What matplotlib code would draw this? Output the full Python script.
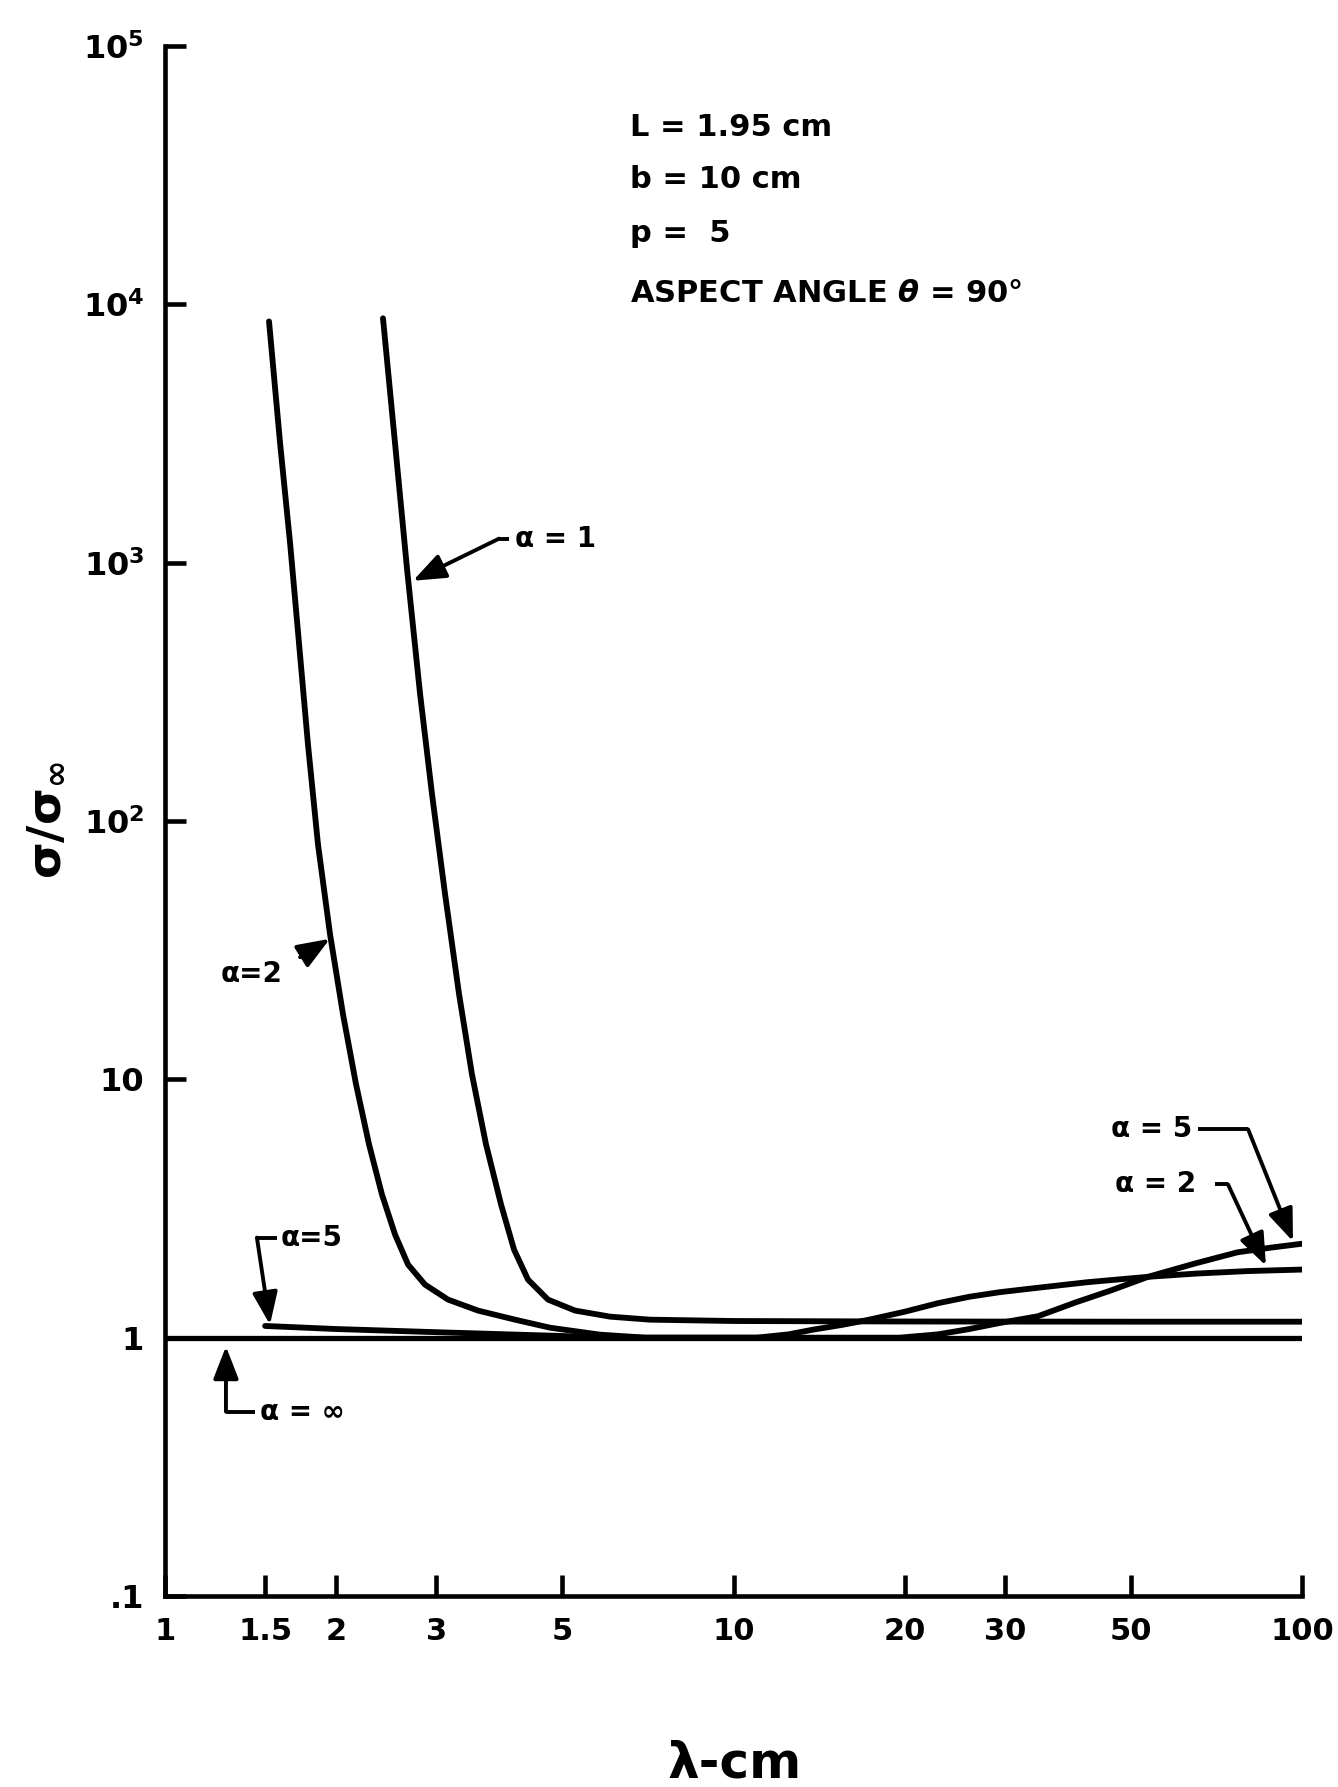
import matplotlib
matplotlib.use("Agg")
import matplotlib.pyplot as plt

plt.rcParams['font.family'] = ['DejaVu Sans']
plt.rcParams['font.weight'] = 'bold'
plt.rcParams['mathtext.fontset'] = 'custom'
plt.rcParams['mathtext.rm'] = 'DejaVu Sans:bold'
plt.rcParams['mathtext.bf'] = 'DejaVu Sans:bold'
plt.rcParams['mathtext.it'] = 'DejaVu Sans:bold:italic'

# sigma/sigma_inf vs wavelength (cm)
lam_a1 = [2.418, 2.539, 2.665, 2.81, 2.949, 3.109, 3.29, 3.467, 3.67, 3.90,
          4.111, 4.35, 4.717, 5.264, 6.066, 7.13, 10, 20, 50, 100]
sig_a1 = [8830, 2892, 948, 310, 127, 52.1, 21.4, 10.45, 5.60, 3.28,
          2.193, 1.678, 1.404, 1.273, 1.206, 1.174, 1.16, 1.155, 1.153, 1.153]

lam_a2 = [1.524, 1.594, 1.66, 1.721, 1.784, 1.858, 1.951, 2.056, 2.168, 2.285,
          2.408, 2.539, 2.676, 2.866, 3.147, 3.553, 4.128, 4.756, 5.823, 7.0,
          9.0, 11.0, 12.5, 13.8, 15.5, 17.2, 20, 22.9, 26, 29.4, 34.3, 42,
          53.6, 65, 80, 100]
sig_a2 = [8590, 2892, 1185, 486, 199, 81.4, 36.5, 17.9, 9.56, 5.60,
          3.58, 2.507, 1.919, 1.605, 1.404, 1.273, 1.174, 1.093, 1.027, 1.0,
          1.0, 1.0, 1.03, 1.074, 1.12, 1.17, 1.26, 1.36, 1.44, 1.50, 1.56, 1.64,
          1.72, 1.77, 1.81, 1.835]

lam_a5 = [1.5, 2, 3, 4, 5, 6, 8, 10, 15, 19.6, 22.9, 26, 29.4, 34.3, 40, 46,
          53.6, 65, 77, 88, 100]
sig_a5 = [1.11, 1.08, 1.05, 1.03, 1.015, 1.0, 1.0, 1.0, 1.0, 1.0, 1.03, 1.08,
          1.14, 1.21, 1.37, 1.52, 1.72, 1.94, 2.14, 2.23, 2.31]

lam_inf = [1, 100]
sig_inf = [1, 1]

x_ticks = [1, 1.5, 2, 3, 5, 10, 20, 30, 50, 100]
x_labels = ['1', '1.5', '2', '3', '5', '10', '20', '30', '50', '100']
y_ticks = [0.1, 1, 10, 1e2, 1e3, 1e4, 1e5]
y_labels = ['.1', '1', '10', r'$\mathbf{10^{2}}$', r'$\mathbf{10^{3}}$',
            r'$\mathbf{10^{4}}$', r'$\mathbf{10^{5}}$']

W, H = 1338, 1787
fig = plt.figure(figsize=(W / 100, H / 100), dpi=100)
ax = fig.add_axes([165 / W, 1 - 1596 / H, (1302 - 165) / W, (1596 - 46) / H])

lw = 4.2
for lam, sig in [(lam_a1, sig_a1), (lam_a2, sig_a2), (lam_a5, sig_a5)]:
    ax.plot(lam, sig, color='k', lw=lw, solid_capstyle='round',
            solid_joinstyle='round')
ax.plot(lam_inf, sig_inf, color='k', lw=3.8, solid_capstyle='butt')

ax.set_xscale('log')
ax.set_yscale('log')
ax.set_xlim(1, 100)
ax.set_ylim(0.1, 1e5)

for s in ['top', 'right']:
    ax.spines[s].set_visible(False)
for s in ['left', 'bottom']:
    ax.spines[s].set_linewidth(3.3)

ax.xaxis.set_minor_locator(matplotlib.ticker.NullLocator())
ax.yaxis.set_minor_locator(matplotlib.ticker.NullLocator())
ax.set_xticks(x_ticks)
ax.set_xticklabels(x_labels)
ax.set_yticks(y_ticks)
ax.set_yticklabels(y_labels)
ax.tick_params(direction='in', length=15, width=3.3)
ax.tick_params(axis='y', pad=15, labelsize=23)
ax.tick_params(axis='x', pad=15, labelsize=22)


def leader(pts):
    xs = [p[0] for p in pts[:-1]]
    ys = [p[1] for p in pts[:-1]]
    if len(xs) > 1:
        ax.plot(xs, ys, color='k', lw=2.8, solid_capstyle='butt')
    ax.annotate('', xy=pts[-1], xytext=pts[-2],
                arrowprops=dict(arrowstyle='-|>,head_length=0.9,head_width=0.35',
                                color='k', lw=2.8, shrinkA=0, shrinkB=0,
                                mutation_scale=22))


lab = dict(fontsize=20, fontweight='bold', va='center')

ax.text(4.12, 1239, 'α = 1', ha='left', **lab)
leader([(4.02, 1239), (3.87, 1239), (2.73, 851)])

ax.text(1.42, 25.5, 'α=2', ha='center', **lab)
leader([(1.728, 29.7), (1.95, 35)])

ax.text(1.60, 2.44, 'α=5', ha='left', **lab)
leader([(1.574, 2.44), (1.451, 2.44), (1.53, 1.123)])

ax.text(1.47, 0.517, 'α = ∞', ha='left', **lab)
leader([(1.44, 0.517), (1.28, 0.517), (1.28, 0.925)])

ax.text(46.1, 6.40, 'α = 5', ha='left', **lab)
leader([(65.6, 6.4), (80.4, 6.4), (96.4, 2.36)])

ax.text(46.9, 3.92, 'α = 2', ha='left', **lab)
leader([(70.3, 3.92), (74.1, 3.92), (86.4, 1.90)])

# parameter block
info = ['L = 1.95 cm', 'b = 10 cm', 'p =  5', r'ASPECT ANGLE $\theta$ = 90°']
info_y = [128, 180, 234, 294]
for t, yp in zip(info, info_y):
    fig.text(630 / W, 1 - yp / H, t, fontsize=22, fontweight='bold',
             ha='left', va='center')

fig.text(46 / W, 1 - 820 / H, 'σ/σ$_{\\infty}$', rotation=90, fontsize=34,
         fontweight='bold', ha='center', va='center')
fig.text(735 / W, 1 - 1764 / H, 'λ-cm', fontsize=36, fontweight='bold',
         ha='center', va='center')

fig.savefig('out.png', dpi=100)
